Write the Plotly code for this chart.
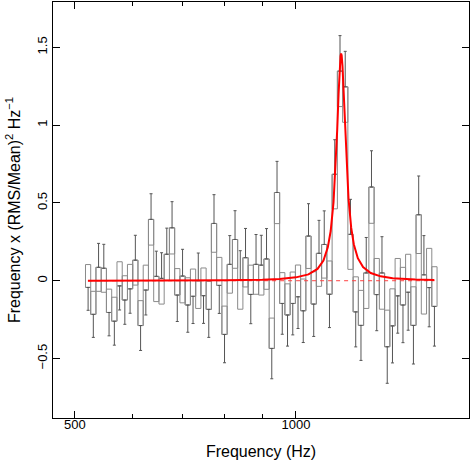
import numpy as np
import plotly.graph_objects as go

# ---------------- data ----------------
freq = [521.3, 529.9, 538.7, 547.6, 556.7, 566.0, 575.4, 584.9, 594.6, 604.5,
        614.5, 624.7, 635.0, 645.6, 656.3, 667.1, 678.2, 689.4, 700.9, 712.5,
        724.3, 736.3, 748.5, 760.9, 773.5, 786.4, 799.4, 812.7, 826.2, 839.9,
        853.8, 868.0, 882.4, 897.0, 911.9, 927.0, 942.4, 958.0, 973.9, 990.1,
        1006.5, 1023.1, 1040.1, 1057.3, 1074.9, 1092.7, 1110.8, 1129.3, 1148.0, 1167.0,
        1186.4, 1206.0, 1226.0, 1246.4, 1267.1, 1288.1, 1309.4, 1331.2, 1353.2, 1375.7,
        1398.5, 1421.5, 1445.1, 1469.1, 1493.4, 1518.2, 1543.4]

power = [-0.043, -0.216, 0.086, 0.080, -0.204, -0.260, -0.033, -0.124, -0.052, 0.132,
         -0.288, -0.060, 0.394, 0.028, 0.015, 0.170, 0.340, -0.092, 0.030, -0.156,
         -0.100, 0.000, -0.096, -0.184, 0.368, -0.030, -0.345, 0.105, 0.265, 0.005,
         0.148, -0.088, 0.105, 0.100, 0.140, -0.435, 0.567, -0.146, -0.220, -0.146,
         -0.103, -0.193, 0.287, -0.150, 0.176, 0.233, -0.087, 0.684, 1.347, 1.246,
         0.298, -0.200, -0.287, 0.050, 0.602, -0.089, 0.050, -0.424, -0.290, -0.097,
         -0.156, -0.074, -0.287, 0.424, 0.038, -0.044, -0.165]

error = [0.147, 0.148, 0.154, 0.154, 0.150, 0.154, 0.155, 0.156, 0.157, 0.160,
         0.160, 0.160, 0.165, 0.162, 0.165, 0.168, 0.168, 0.170, 0.172, 0.175,
         0.175, 0.178, 0.178, 0.180, 0.185, 0.180, 0.182, 0.185, 0.185, 0.188,
         0.188, 0.188, 0.192, 0.192, 0.195, 0.195, 0.200, 0.198, 0.200, 0.202,
         0.204, 0.204, 0.208, 0.208, 0.212, 0.216, 0.214, 0.222, 0.228, 0.228,
         0.225, 0.225, 0.225, 0.228, 0.233, 0.232, 0.233, 0.235, 0.238, 0.240,
         0.242, 0.244, 0.248, 0.249, 0.252, 0.252, 0.255]

# best-fit model curve (Lorentzian QPO)
model_freq = [521, 600, 700, 800, 900, 950, 1000, 1040, 1070, 1090, 1105, 1115,
              1125, 1132, 1138, 1143, 1147, 1150, 1152, 1154, 1157, 1161, 1166,
              1172, 1179, 1189, 1199, 1214, 1234, 1264, 1304, 1354, 1404, 1454, 1543]
model_power = [0.0007, 0.0010, 0.0017, 0.0033, 0.0071, 0.0117, 0.0216, 0.0407, 0.0761,
               0.1302, 0.2147, 0.3195, 0.5052, 0.7173, 0.9679, 1.2046, 1.3681, 1.4430,
               1.4600, 1.4481, 1.3801, 1.2236, 0.9917, 0.7427, 0.5294, 0.3407, 0.2330,
               0.1450, 0.0878, 0.0495, 0.0281, 0.0167, 0.0111, 0.0080, 0.0051]

const_level = 0.0

x_major = [500, 1000]
x_major_text = ["500", "1000"]
x_minor = [600, 700, 800, 900]
y_ticks = [-0.5, 0, 0.5, 1, 1.5]
y_tick_text = ["\u22120.5", "0", "0.5", "1", "1.5"]

# ---------------- derived geometry ----------------
f = np.array(freq)
p = np.array(power)
e = np.array(error)
lf = np.log10(f)
mid = (lf[:-1] + lf[1:]) / 2
lo = np.concatenate([[lf[0] - (mid[0] - lf[0])], mid])
hi = np.concatenate([mid, [lf[-1] + (lf[-1] - mid[-1])]])
lo, hi = 10 ** lo, 10 ** hi

# half-error box drawn from the value toward zero
side = np.where(p >= 0, -1.0, 1.0)

# step histogram
sx, sy = [], []
for a, b, v in zip(lo, hi, p):
    sx += [a, b]
    sy += [v, v]

bx, by = [], []
for a, b, v, s, er in zip(lo, hi, p, side, e):
    t = v + s * er
    bx += [a, b, b, a, a, None]
    by += [v, v, t, t, v, None]

err_plus = np.where(side > 0, 0.0, e)
err_minus = np.where(side > 0, e, 0.0)

fig = go.Figure()
fig.add_trace(go.Scatter(x=sx, y=sy, mode="lines",
                         line=dict(color="#8a8a8a", width=1), hoverinfo="skip"))
fig.add_trace(go.Scatter(x=bx, y=by, mode="lines",
                         line=dict(color="#8a8a8a", width=1), hoverinfo="skip"))
fig.add_trace(go.Scatter(x=f, y=p, mode="markers",
                         marker=dict(size=1, color="rgba(0,0,0,0)"),
                         error_y=dict(type="data", symmetric=False,
                                      array=err_plus, arrayminus=err_minus,
                                      color="#555555", thickness=1, width=1.5)))
fig.add_trace(go.Scatter(x=[freq[0], freq[-1]], y=[const_level, const_level], mode="lines",
                         line=dict(color="#ff4040", width=1, dash="4px,4px"), hoverinfo="skip"))
fig.add_trace(go.Scatter(x=model_freq, y=model_power, mode="lines",
                         line=dict(color="#ff0000", width=2), hoverinfo="skip"))

font = dict(family="Liberation Sans, Arial, sans-serif", size=13, color="black")
fig.update_layout(
    width=471, height=462,
    margin=dict(l=53, r=2, t=2, b=44),
    paper_bgcolor="white", plot_bgcolor="white",
    showlegend=False, font=font,
    xaxis=dict(type="log", range=[np.log10(467), np.log10(1720)],
               automargin=False,
               tickvals=x_major, ticktext=x_major_text,
               ticks="inside", ticklen=7, tickcolor="black",
               ticklabelstandoff=-6,
               showline=True, linecolor="black", linewidth=1, mirror="ticks",
               showgrid=False, zeroline=False,
               minor=dict(tickvals=x_minor, ticks="inside", ticklen=4,
                          tickcolor="black", showgrid=False),
               title=dict(text="Frequency (Hz)", standoff=15)),
    yaxis=dict(range=[-0.882, 1.791], tickvals=y_ticks, ticktext=y_tick_text,
               automargin=False,
               tickangle=-90,
               ticks="inside", ticklen=7, tickcolor="black",
               showline=True, linecolor="black", linewidth=1, mirror="ticks",
               showgrid=False, zeroline=False,
               title=dict(text="Frequency x (RMS/Mean)<sup>2</sup> Hz<sup>\u22121</sup>",
                          standoff=10)),
)

fig.write_html("out.html", config={"displayModeBar": False},
               post_script="document.body.style.margin='0';document.body.style.overflow='hidden';")
